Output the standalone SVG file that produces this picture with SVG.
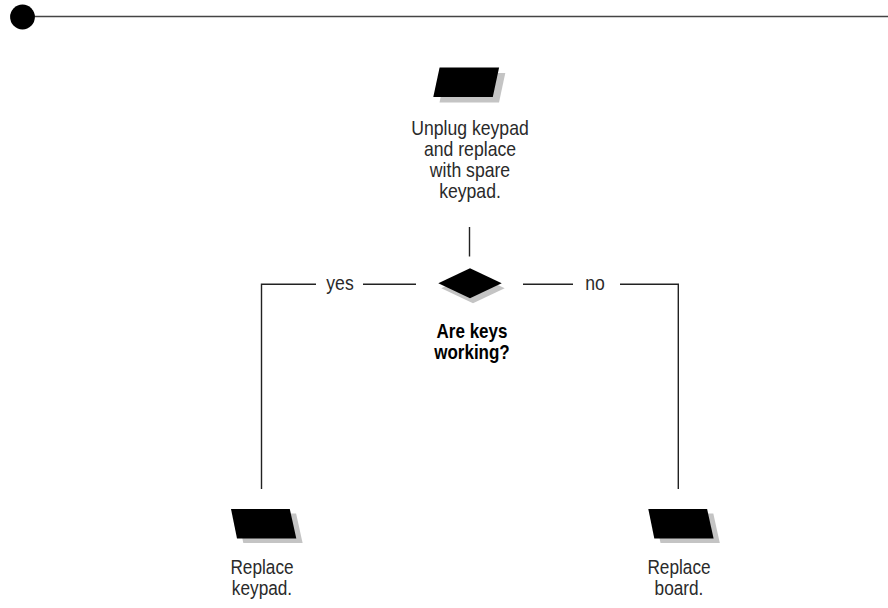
<svg xmlns="http://www.w3.org/2000/svg" width="888" height="608" viewBox="0 0 888 608">
  <style>
    .wire { fill: none; stroke: #222; stroke-width: 1.4; }
    .shape { fill: #000; }
    .shadow { fill: #c4c4c4; }
    .lbl { font-family: "Liberation Sans", Arial, sans-serif; font-size: 20.5px; fill: #2a2a2a; text-anchor: middle; }
    .bold { font-weight: bold; fill: #000; font-size: 20px; }
  </style>
  <defs>
    <!-- forward-leaning step box, origin at its top-left corner -->
    <polygon id="stepFwd" points="6.3,0 65.8,0 59.5,29.5 0,29.5"/>
    <!-- backward-leaning step box -->
    <polygon id="stepBack" points="0,0 58.8,0 65.3,29.5 6.0,29.5"/>
  </defs>
  <rect width="888" height="608" fill="#fff"/>

  <!-- page rule with bullet -->
  <g id="rule">
    <line x1="22" y1="16.5" x2="888" y2="16.5" stroke="#444" stroke-width="1.6"/>
    <circle cx="22.5" cy="17" r="12.4" fill="#000"/>
  </g>

  <g id="connectors">
    <line class="wire" x1="469.5" y1="227" x2="469.5" y2="256.5"/>
    <path class="wire" d="M416,284.3 H363"/>
    <path class="wire" d="M316,284.3 H261.5 V489"/>
    <path class="wire" d="M523,284.3 H573"/>
    <path class="wire" d="M620,284.3 H678.3 V489"/>
    <g transform="translate(340,289.5) scale(0.86 1)"><text class="lbl" x="0" y="0">yes</text></g>
    <g transform="translate(595,289.5) scale(0.86 1)"><text class="lbl" x="0" y="0">no</text></g>
  </g>

  <g id="unplug">
    <use href="#stepFwd" class="shadow" x="439.5" y="73"/>
    <use href="#stepFwd" class="shape" x="433.3" y="67.5"/>
    <g transform="translate(470,0) scale(0.86 1)">
      <text class="lbl" x="0" y="135">Unplug keypad</text>
      <text class="lbl" x="0" y="156">and replace</text>
      <text class="lbl" x="0" y="177">with spare</text>
      <text class="lbl" x="0" y="198">keypad.</text>
    </g>
  </g>

  <g id="keys-working">
    <polygon class="shadow" points="441.3,288.3 473,273.3 504.7,288.3 473,303.3"/>
    <polygon class="shape" points="438.3,283.3 470,268.3 501.7,283.3 470,298.3"/>
    <g transform="translate(472,0) scale(0.85 1)">
      <text class="lbl bold" x="0" y="338.5">Are keys</text>
      <text class="lbl bold" x="0" y="359.5">working?</text>
    </g>
  </g>

  <g id="replace-keypad">
    <use href="#stepBack" class="shadow" x="237.3" y="513.5"/>
    <use href="#stepBack" class="shape" x="231" y="509"/>
    <g transform="translate(262,0) scale(0.84 1)">
      <text class="lbl" x="0" y="574">Replace</text>
      <text class="lbl" x="0" y="595">keypad.</text>
    </g>
  </g>

  <g id="replace-board">
    <use href="#stepBack" class="shadow" x="654.5" y="513.5"/>
    <use href="#stepBack" class="shape" x="648.3" y="509"/>
    <g transform="translate(679,0) scale(0.84 1)">
      <text class="lbl" x="0" y="574">Replace</text>
      <text class="lbl" x="0" y="595">board.</text>
    </g>
  </g>
</svg>
